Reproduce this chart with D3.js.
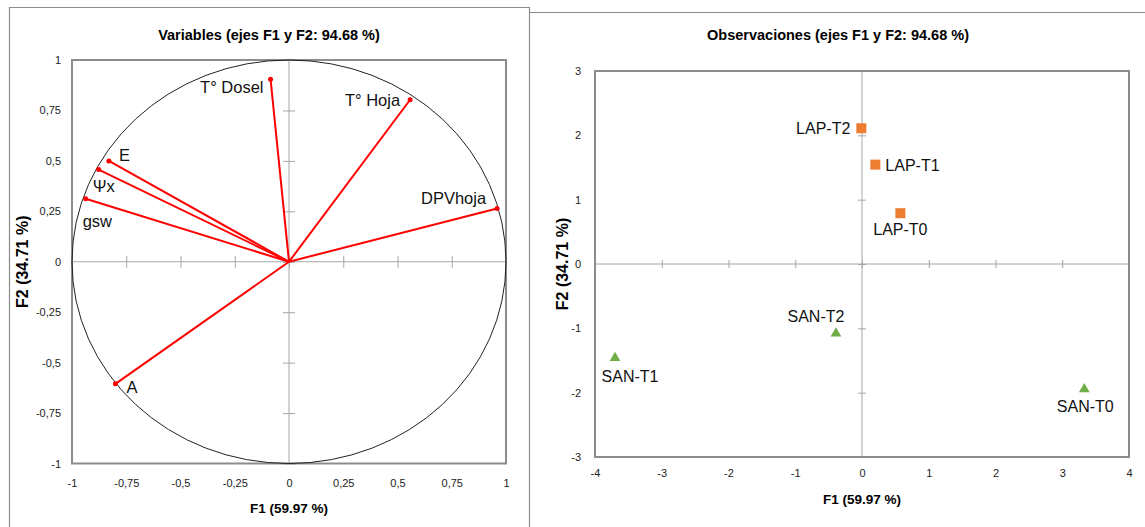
<!DOCTYPE html>
<html>
<head>
<meta charset="utf-8">
<script src="https://cdn.jsdelivr.net/npm/d3@7"></script>
<style>
  body { margin: 0; background: #fff; }
  text { font-family: "Liberation Sans", Arial, sans-serif; }
</style>
</head>
<body>
<div id="chart"></div>
<script>
// variables (correlation circle)
var varNames = ["T° Dosel", "T° Hoja", "DPVhoja", "E", "Ψx", "gsw", "A"];
var varF1 = [-0.085, 0.558, 0.959, -0.83, -0.877, -0.937, -0.80];
var varF2 = [0.905, 0.803, 0.264, 0.50, 0.457, 0.312, -0.605];
var varTicks = [-1, -0.75, -0.5, -0.25, 0, 0.25, 0.5, 0.75, 1];

// observations
var obsNames = ["LAP-T2", "LAP-T1", "LAP-T0", "SAN-T2", "SAN-T1", "SAN-T0"];
var obsGroup = ["LAP", "LAP", "LAP", "SAN", "SAN", "SAN"];
var obsF1 = [-0.01, 0.2, 0.575, -0.39, -3.70, 3.33];
var obsF2 = [2.11, 1.545, 0.79, -1.08, -1.46, -1.945];
var obsTicksX = [-4, -3, -2, -1, 0, 1, 2, 3, 4];
var obsTicksY = [-3, -2, -1, 0, 1, 2, 3];

var titleVar = "Variables (ejes F1 y F2: 94.68 %)";
var titleObs = "Observaciones (ejes F1 y F2: 94.68 %)";
var labelF1 = "F1 (59.97 %)";
var labelF2 = "F2 (34.71 %)";

var W = 1145, H = 527;
var frameCol = "#8c8c8c", axisCol = "#a6a6a6";

var svg = d3.select("#chart")
  .append("svg")
    .attr("width", W)
    .attr("height", H);

// panel borders
svg.append("path")
  .attr("d", "M9.5," + H + "V7.5H529.5V" + H)
  .attr("fill", "none").attr("stroke", frameCol).attr("stroke-width", 1.2);
svg.append("path")
  .attr("d", "M529.5,12.5H" + W)
  .attr("fill", "none").attr("stroke", frameCol).attr("stroke-width", 1.2);

function commaFmt(d) { return String(d).replace(".", ","); }

// draws frame, zero lines with crossing ticks, tick labels and titles
function drawFrame(x, y, tx, ty, opt) {
  var x0 = x.range()[0], x1 = x.range()[1];
  var y0 = y.range()[1], y1 = y.range()[0];

  // zero lines
  svg.append("line")
    .attr("x1", x0).attr("x2", x1).attr("y1", y(0)).attr("y2", y(0))
    .attr("stroke", axisCol).attr("stroke-width", 1);
  svg.append("line")
    .attr("x1", x(0)).attr("x2", x(0)).attr("y1", y0).attr("y2", y1)
    .attr("stroke", axisCol).attr("stroke-width", 1);

  // crossing tick marks on the zero lines
  var gx = svg.append("g")
    .attr("transform", "translate(0," + (y(0) - opt.tick) + ")")
    .call(d3.axisBottom(x).tickValues(tx).tickSize(opt.tick * 2).tickFormat(""));
  gx.select(".domain").remove();
  gx.selectAll(".tick line").attr("stroke", axisCol);

  var gy = svg.append("g")
    .attr("transform", "translate(" + (x(0) + opt.tick) + ",0)")
    .call(d3.axisLeft(y).tickValues(ty).tickSize(opt.tick * 2).tickFormat(""));
  gy.select(".domain").remove();
  gy.selectAll(".tick line").attr("stroke", axisCol);

  // tick labels
  var bx = svg.append("g")
    .attr("transform", "translate(0," + (y1 + opt.xLabGap) + ")")
    .call(d3.axisBottom(x).tickValues(tx).tickSize(0).tickFormat(commaFmt));
  bx.select(".domain").remove();
  bx.selectAll("text")
    .attr("fill", "#222").attr("dy", "0.35em").attr("y", 0)
    .style("font-family", "'Liberation Sans', Arial, sans-serif")
    .style("font-size", "11px");

  var by = svg.append("g")
    .attr("transform", "translate(" + (x0 - opt.yLabGap) + ",0)")
    .call(d3.axisLeft(y).tickValues(ty).tickSize(0).tickFormat(commaFmt));
  by.select(".domain").remove();
  by.selectAll("text")
    .attr("fill", "#222").attr("x", 0)
    .style("font-family", "'Liberation Sans', Arial, sans-serif")
    .style("font-size", "11px");

  // plot frame
  svg.append("rect")
    .attr("x", x0).attr("y", y0)
    .attr("width", x1 - x0).attr("height", y1 - y0)
    .attr("fill", "none").attr("stroke", frameCol).attr("stroke-width", 2);

  // titles
  svg.append("text")
    .attr("x", opt.titleX).attr("y", 35)
    .attr("text-anchor", "middle").attr("dominant-baseline", "central")
    .style("font-weight", "bold").style("font-size", "14.5px")
    .text(opt.title);
  svg.append("text")
    .attr("x", x(0)).attr("y", opt.xTitleY)
    .attr("text-anchor", "middle").attr("dominant-baseline", "central")
    .style("font-weight", "bold").style("font-size", "13.5px")
    .text(labelF1);
  svg.append("text")
    .attr("transform", "translate(" + opt.yTitleX + "," + ((y0 + y1) / 2) + ") rotate(-90)")
    .attr("text-anchor", "middle").attr("dominant-baseline", "central")
    .style("font-weight", "bold").style("font-size", "16px")
    .text(labelF2);
}

// ---------- left: variables ----------
var xv = d3.scaleLinear().domain([-1, 1]).range([72, 506]);
var yv = d3.scaleLinear().domain([-1, 1]).range([463.5, 60]);

drawFrame(xv, yv, varTicks, varTicks, {
  tick: 6, xLabGap: 20, yLabGap: 11,
  title: titleVar, titleX: 269, xTitleY: 508, yTitleX: 22
});

svg.append("ellipse")
  .attr("cx", xv(0)).attr("cy", yv(0))
  .attr("rx", xv(1) - xv(0)).attr("ry", yv(0) - yv(1))
  .attr("fill", "none").attr("stroke", "#222").attr("stroke-width", 1);

var varLab = {
  "T° Dosel": [-7, 8, "end"],
  "T° Hoja": [-10, 0, "end"],
  "DPVhoja": [-11, -10, "end"],
  "E": [10, -6, "start"],
  "Ψx": [-6, 16, "start"],
  "gsw": [-3, 22, "start"],
  "A": [11, 3, "start"]
};

varNames.forEach(function(n, i) {
  var px = xv(varF1[i]), py = yv(varF2[i]);
  svg.append("line")
    .attr("x1", xv(0)).attr("y1", yv(0)).attr("x2", px).attr("y2", py)
    .attr("stroke", "#ff0000").attr("stroke-width", 2);
  svg.append("circle")
    .attr("cx", px).attr("cy", py).attr("r", 2.5)
    .attr("fill", "#ff0000");
  var l = varLab[n];
  svg.append("text")
    .attr("x", px + l[0]).attr("y", py + l[1])
    .attr("text-anchor", l[2]).attr("dominant-baseline", "central")
    .style("font-size", "16.5px").attr("fill", "#111")
    .text(n);
});

// ---------- right: observations ----------
var xo = d3.scaleLinear().domain([-4, 4]).range([595, 1129]);
var yo = d3.scaleLinear().domain([-3, 3]).range([457, 71]);

drawFrame(xo, yo, obsTicksX, obsTicksY, {
  tick: 4, xLabGap: 16, yLabGap: 14,
  title: titleObs, titleX: 838, xTitleY: 499, yTitleX: 562
});

var obsLab = {
  "LAP-T2": [-11, 0, "end"],
  "LAP-T1": [10, 1, "start"],
  "LAP-T0": [0, 16, "middle"],
  "SAN-T2": [-20, -17, "middle"],
  "SAN-T1": [15, 19, "middle"],
  "SAN-T0": [1, 17, "middle"]
};
var symbolFor = { LAP: d3.symbol().type(d3.symbolSquare).size(100),
                  SAN: d3.symbol().type(d3.symbolTriangle).size(50) };
var colorFor = { LAP: "#ed7d31", SAN: "#70ad47" };

obsNames.forEach(function(n, i) {
  var px = xo(obsF1[i]), py = yo(obsF2[i]);
  svg.append("path")
    .attr("d", symbolFor[obsGroup[i]]())
    .attr("transform", "translate(" + px + "," + py + ")")
    .attr("fill", colorFor[obsGroup[i]]);
  var l = obsLab[n];
  svg.append("text")
    .attr("x", px + l[0]).attr("y", py + l[1])
    .attr("text-anchor", l[2]).attr("dominant-baseline", "central")
    .style("font-size", "16px").attr("fill", "#111")
    .text(n);
});
</script>
</body>
</html>
